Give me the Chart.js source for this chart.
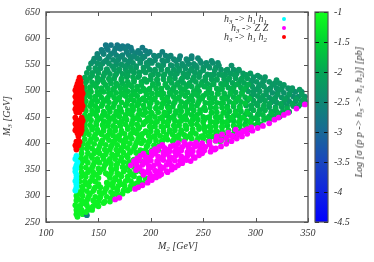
<!DOCTYPE html>
<html><head><meta charset="utf-8">
<style>
html,body{margin:0;padding:0;background:#fff}
#wrap{position:relative;width:374px;height:262px;overflow:hidden;filter:blur(0.4px)}
canvas{position:absolute;left:0;top:0}
.t{position:absolute;font:italic 10px "Liberation Serif",serif;color:#333;white-space:nowrap;line-height:10px}
.t sub{font-size:7px;vertical-align:-2px;line-height:0}
.m{position:absolute;width:4px;height:4px;border-radius:50%}
</style></head><body>
<div id="wrap">
<canvas id="main" width="374" height="262"></canvas>
<canvas id="bar" width="374" height="262"></canvas>
<div class="t" style="left:158px;top:241px">M<sub>2</sub> [GeV]</div>
<div class="t" style="left:7px;top:116px;transform:translate(-50%,-50%) rotate(-90deg)">M<sub>3</sub> [GeV]</div>
<div class="t" style="left:359px;top:112px;transform:translate(-50%,-50%) rotate(-90deg)">Log [σ (p p -&gt; h<sub>3</sub> -&gt; h<sub>1</sub> h<sub>2</sub>)] [pb]</div>
<div class="t" style="left:224px;top:14px">h<sub>3</sub> -&gt; h<sub>1</sub> h<sub>1</sub></div>
<div class="t" style="left:231px;top:23px">h<sub>3</sub> -&gt; Z Z</div>
<div class="t" style="left:224px;top:32px">h<sub>3</sub> -&gt; h<sub>1</sub> h<sub>2</sub></div>
<div class="m" style="left:282px;top:17px;background:#00ffff"></div>
<div class="m" style="left:282px;top:26px;background:#ff00ff"></div>
<div class="m" style="left:282px;top:35px;background:#ff0000"></div>
</div>
<script src="https://cdn.jsdelivr.net/npm/chart.js@4"></script>
<script>
const xTicks=[100,150,200,250,300,350];
const yTicks=[250,300,350,400,450,500,550,600,650];
const zTicks=[-1,-1.5,-2,-2.5,-3,-3.5,-4,-4.5];

// [M3, log sigma, [M2 values]]
const cloudRows=[
[587,-2.76,[157,162,168]],[585,-2.74,[173,178]],
[578,-2.68,[153,159]],[580,-2.68,[166,171,176]],[576,-2.66,[182,188,195]],
[570,-2.56,[149,155,162]],[568,-2.55,[167,173,179]],[571,-2.58,[185,190,197]],[567,-2.55,[203,208,214,219]],
[561,-2.43,[146,151]],[559,-2.42,[158,164,169,175]],[562,-2.44,[181,187,192]],[558,-2.42,[199,204,211,216]],[560,-2.5,[222,227,234]],[562,-2.52,[239,245]],
[552,-2.28,[143,149,154,160]],[550,-2.28,[167,172,178]],[553,-2.3,[183,190,196,201]],[549,-2.28,[207,212,219,225]],[551,-2.38,[230,236,241]],[553,-2.4,[248,253,259,264]],
[543,-2.16,[141,147,152]],[541,-2.16,[158,165,170,176]],[544,-2.18,[181,186,193]],[540,-2.16,[199,204,210,216,222]],[542,-2.26,[227,233,239]],[544,-2.28,[244,250,256,262]],[540,-2.26,[267,273,279,284]],
[534,-2.04,[139,144,150,156]],[532,-2.04,[161,167,173]],[535,-2.06,[178,184,189,195]],[531,-2.04,[202,207,213]],[533,-2.14,[219,225,231,236]],[535,-2.16,[242,247]],[531,-2.14,[254,260,265,271]],[533,-2.16,[276,282,288,295]],
[525,-1.94,[137,142,149]],[523,-1.94,[154,160,165,172]],[526,-1.96,[177,183,188]],[522,-1.94,[194,200,206,212]],[524,-2.04,[218,223,230]],[526,-2.06,[235,241,246,252]],[522,-2.04,[258,263,270]],[524,-2.06,[275,281,287,292]],[526,-2.25,[298,304,309]],
[516,-1.85,[138,144,149,155]],[514,-1.85,[162,167,173]],[517,-1.87,[178,184,191,196]],[513,-1.85,[202,207,214]],[515,-1.95,[220,226,231,237]],[517,-1.97,[243,249]],[513,-1.95,[254,260,267,272]],[515,-2.0,[278,284,289]],[517,-2.22,[296,301,307,313]],[514,-2.24,[318,323]],
[507,-1.76,[137,142,148]],[505,-1.76,[153,159,165,171]],[508,-1.78,[176,182,187]],[504,-1.76,[193,199,205,210]],[506,-1.86,[216,222,228]],[508,-1.88,[234,239,245,251]],[504,-1.86,[256,263,268]],[506,-1.92,[274,279,286,291]],[508,-2.18,[297,303,308]],[505,-2.28,[314,320,325,331,335]],
[498,-1.68,[138,143,149,155]],[496,-1.68,[160,167,172]],[499,-1.7,[178,183,190,195]],[495,-1.68,[201,206,212]],[497,-1.78,[218,224,229,235]],[499,-1.8,[241,246]],[495,-1.78,[253,258,264,270]],[497,-1.86,[276,281,287]],[499,-2.12,[293,298,304,310]],[496,-2.32,[316,321,327]],[498,-2.36,[333,338,344]],
[489,-1.62,[137,142,147]],[487,-1.62,[153,159,165,170]],[490,-1.64,[176,181,187]],[486,-1.62,[193,199,204,211]],[488,-1.72,[216,222,227]],[490,-1.74,[233,239,245,250]],[486,-1.72,[256,261,268]],[488,-1.82,[273,279,284,290]],[490,-2.06,[296,302,307]],[487,-2.25,[313,319,325,330]],[489,-2.36,[336,341,347]],
[480,-1.56,[138,144,149,155]],[478,-1.56,[160,166,172]],[481,-1.58,[178,184,189,195]],[477,-1.56,[200,206,212]],[479,-1.66,[217,223,229,235]],[481,-1.68,[240,246]],[477,-1.66,[252,258,263,269]],[479,-1.76,[275,281,286]],[481,-2,[292,298,304,309]],[478,-2.18,[315,320,327]],[480,-2.3,[332,338,344,347]],
[471,-1.5,[137,142,147,153]],[469,-1.5,[159,164,170]],[472,-1.52,[176,182,187,193]],[468,-1.5,[199,205,210]],[470,-1.6,[216,221,228,233]],[472,-1.62,[239,244]],[468,-1.6,[251,257,262,268]],[470,-1.72,[273,279,285]],[472,-1.92,[291,296,302,308]],[469,-2.08,[313,319,325]],[471,-2.2,[330,336,341]],
[462,-1.45,[138,144,149]],[460,-1.45,[155,161,167,172]],[463,-1.47,[178,183,189]],[459,-1.45,[195,200,207,213]],[461,-1.55,[218,224,229]],[463,-1.57,[235,241,247,252]],[459,-1.55,[258,263,270]],[461,-1.66,[275,281,286,292]],[463,-1.84,[298,304,309]],[460,-1.98,[315,320,326,332]],
[453,-1.41,[137,142,148,154]],[451,-1.41,[159,165,170]],[454,-1.43,[176,182,188,193]],[450,-1.41,[199,204,211]],[452,-1.5,[216,222,228,233]],[454,-1.52,[239,244]],[450,-1.5,[250,256,262,267]],[452,-1.6,[273,279,284]],[454,-1.76,[290,295,302,307]],[451,-1.88,[313,318,323]],
[444,-1.37,[138,143,149]],[442,-1.37,[155,160,166,172]],[445,-1.39,[177,183,189]],[441,-1.37,[195,200,206,212]],[443,-1.45,[217,223,229]],[445,-1.47,[234,240,245,251]],[441,-1.45,[257,263,268]],[443,-1.54,[274,279,285,291]],[445,-1.68,[296,302,308,313]],
[435,-1.34,[137,142,148,154]],[433,-1.34,[159,164,171]],[436,-1.35,[176,182,187,193]],[432,-1.34,[199,204,210]],[434,-1.4,[216,222,227,233]],[436,-1.42,[239,244]],[432,-1.4,[251,256,262,268]],[434,-1.48,[273,279,285]],[436,-1.6,[290,296,301,305]],
[426,-1.31,[138,144,149]],[424,-1.31,[155,161,166,172]],[427,-1.32,[178,183,188]],[423,-1.31,[195,200,206,212]],[425,-1.36,[218,223,229]],[427,-1.37,[234,240,246,251]],[423,-1.36,[257,262,268]],[425,-1.44,[274,280,286,292]],
[417,-1.28,[136,141,147,153]],[415,-1.28,[159,164,170]],[418,-1.29,[175,181,187,192]],[414,-1.28,[198,204,209]],[416,-1.32,[215,221,227,232]],[418,-1.33,[238,243]],[414,-1.32,[250,255,261,266]],[416,-1.38,[272,278,283]],
[408,-1.26,[137,143,148]],[406,-1.26,[154,160,166,171]],[409,-1.27,[176,182,188]],[405,-1.26,[193,199,205,211]],[407,-1.28,[216,222,227]],[409,-1.29,[233,239,245,250]],[405,-1.28,[256,262,267,273]],
[399,-1.24,[135,140,146,152]],[397,-1.24,[157,163,168]],[400,-1.25,[174,180,186,191]],[396,-1.24,[197,203,208]],
[390,-1.23,[134,139,144]],[388,-1.23,[150,156,161,167]],[391,-1.23,[172,178,184]],[387,-1.23,[190,195,201,207]],
[381,-1.22,[134,140,146,151]],[379,-1.22,[157,163,168]],[382,-1.22,[174,180,186,191,197]],
[372,-1.21,[133,138,144]],[370,-1.21,[149,155,161,166]],[373,-1.21,[172,178]],[369,-1.21,[184,189,195]],
[363,-1.2,[134,140,146,151]],[361,-1.2,[157,162,168]],[364,-1.2,[174,179,186]],
[354,-1.19,[133,138,144]],[352,-1.19,[150,155,162,167]],[355,-1.19,[173,178,184]],
[345,-1.18,[134,140,145,151]],[343,-1.18,[157,162,168]],[346,-1.18,[174,180,186,191]],
[336,-1.18,[133,138,144]],[334,-1.18,[150,161,166]],[337,-1.18,[172,178,184]],[333,-1.18,[189,195,199]],
[327,-1.17,[132,137,142,147]],[325,-1.17,[158,164]],[328,-1.17,[170,176,181]],[324,-1.17,[187,192]],
[318,-1.17,[130,135,141]],[316,-1.17,[147,152,158,164]],[319,-1.17,[169,175,181,186]],
[309,-1.16,[129,134,139,145]],[307,-1.16,[151,156,162]],[310,-1.16,[168,174,178]],
[300,-1.16,[129,135,141]],[298,-1.16,[147,152,158]],[301,-1.16,[164,169]],
[291,-1.15,[129,134,139,145]],[289,-1.15,[150,156,161]],
[282,-1.15,[128,133,139]],[280,-1.15,[145,150]],
[273,-1.15,[129,134,140,144]],
[265,-1.15,[129,135]],
[260,-1.15,[130]],
[263,-2.7,[139]]
];

const cloudFill=[
[582,-2.72,[158,169,181,192]],
[574,-2.62,[154,165,177,188,199,211]],
[565,-2.5,[149,160,171,183,194,205,217]],[566,-2.57,[228,239]],
[556,-2.36,[145,156,167,179,190,201,213]],[557,-2.44,[224,235,247,258]],
[547,-2.24,[152,163,175,186,197,209]],[548,-2.33,[220,231,243,254,265,277]],
[538,-2.1,[148,159,170,182,193,204,216]],[539,-2.2,[227,238,250,261,272,284]],
[529,-2,[144,155,166,178,189,200,212]],[530,-2.1,[223,234,246,257,268,280,291]],[529,-2.25,[302]],
[520,-1.9,[139,150,161,172,184,195,206,218]],[521,-2,[229,240,252,263,274,286]],[520,-2.24,[297,308,320]],
[511,-1.8,[146,157,168,180,191,202,214]],[512,-1.9,[225,236,248,259,270,282,293]],[511,-2.22,[304,316,327]],
[502,-1.72,[142,153,164,176,187,198,210]],[503,-1.82,[221,232,244,255,266,278,289]],[502,-2.2,[300,312,323,334,342]],
[493,-1.65,[140,151,162,174,185,196,208]],[494,-1.75,[219,230,242,253,264,276,287]],[493,-2.15,[298,310,321,332,344]],
[484,-1.59,[147,158,169,181,192,203,215]],[485,-1.69,[226,237,249,260,271,283,294]],[484,-2.1,[305,317,328,339,346]],
[475,-1.53,[143,154,165,177,188,199,211]],[476,-1.63,[222,233,245,256,267,279,290]],[475,-1.98,[301,313,324,335,343]],
[466,-1.48,[149,160,171,183,194,205,217]],[467,-1.58,[228,239,251,262,273,285]],[466,-1.9,[296,307,319,330]],
[457,-1.43,[145,156,167,179,190,201,213]],[458,-1.52,[224,235,247,258,269,281,292]],[457,-1.82,[303,315,322]],
[448,-1.39,[141,152,163,175,186,197,209]],[449,-1.47,[220,231,243,254,265,277,288]],[448,-1.72,[299,311]],
[439,-1.36,[148,159,170,182,193,204,216]],[440,-1.42,[227,238,250,261,272,284,295]],
[430,-1.32,[144,155,166,178,189,200,212]],[431,-1.38,[223,234,246,257,268,280,291]],
[421,-1.3,[139,150,161,172,184,195,206]],[422,-1.34,[218,229,240,252,263,274,286]],
[412,-1.27,[146,157,168,180,191,202,214]],[413,-1.3,[225,236,248,259,270,279]],
[403,-1.25,[142,153,164,176,187,198,210]],[404,-1.27,[221,232,244,255,266]],
[394,-1.24,[140,151,162,174,185,196,206]],
[385,-1.23,[147,158,169,181,192,201]],
[376,-1.22,[143,154,165,177,188,197]],
[367,-1.21,[138,149,160,171,183,190]],
[358,-1.2,[145,156,167,179,186]],
[349,-1.19,[141,152,163,175,186]],
[340,-1.18,[137,148,159,170,182,193]],
[331,-1.18,[144,166,178,189,197]],
[322,-1.17,[139,150,161,172,184,191]],
[313,-1.17,[135,146,157,168,180]],
[304,-1.16,[131,142,153,164,173]],
[295,-1.16,[130,140,151,162]],
[286,-1.15,[136,147,155]],
[277,-1.15,[132,143]],
[269,-1.15,[132,138]]
];

const cyanM2=[128,130,129,129,128,129,129,129,128,129,129,128,129,128];
const cyanM3=[370,364,358,352,346,340,334,328,328,322,316,310,376,352];

const magentaM2=[
166,170,185,188,192,197,201,
226,232,238,243,249,256,262,
208,213,219,224,230,236,242,247,252,258,
201,206,212,218,223,229,235,240,246,251,257,
190,195,201,207,212,218,224,229,235,241,246,
184,189,194,200,206,212,217,223,228,234,238,
181,187,192,198,203,209,215,220,226,
186,192,198,204,209,215,220,
193,199,205,210,
199,205,
262,267,272,277,282,287,292,297,302,307,313,318,322,327,331,339,347,
267,272,277,283,288,292,263,268,274,281,
211,222,234,245,256,204,215,227,238,250,261,193,204,215,226,238,249,
187,198,209,220,231,242,186,196,207,218,230,189,200,212,223,196,207,216,202,208,
278,285,290,296];
const magentaM3=[
293,296,313,316,320,325,330,
400,402,399,401,400,403,405,
393,391,394,392,393,391,394,392,393,391,
384,386,383,385,384,386,383,385,384,386,384,
376,374,377,375,376,374,377,375,376,374,377,
366,368,365,367,366,368,365,367,366,368,366,
358,356,359,357,358,356,359,357,358,
349,347,350,348,349,347,350,
340,342,339,341,
333,335,
390,394,399,404,409,413,418,424,429,433,438,445,449,454,458,466,474,
406,410,414,418,423,427,413,417,420,426,
397,396,397,396,398,389,388,389,388,389,388,380,381,380,381,380,381,
371,372,371,372,371,372,362,363,362,363,362,353,354,353,354,345,346,345,337,338,
414,419,424,430];

const redM2=[132,131,133,130,133,129,132,134,128,131,134,129,132,135,128,131,134,129,132,134,128,131,134,129,132,135,128,131,134,129,132,128,134,129,132,135,128,131,134,129,132,134,128,131,134,130,133,131,129,132,128,131,129,
130,133,130,133,130,133,130,133,130,131,133,130,132,130,129];
const redM3=[525,519,519,513,513,507,507,507,501,501,501,495,495,495,489,489,489,483,483,483,477,477,477,471,471,471,465,465,465,459,459,449,449,443,443,443,437,437,437,431,431,431,425,425,425,419,419,413,403,403,396,396,388,
510,504,498,492,486,480,474,468,462,440,434,428,422,399,392];

const paletteZ=[-4.5,-4,-3.5,-3,-2.5,-2,-1.5,-1];
const paletteRGB=[[0,0,255],[15,35,225],[25,70,190],[25,105,150],[15,135,115],[5,165,85],[0,210,50],[18,255,28]];
function colorOf(z){
  let i=0;while(i<paletteZ.length-2&&z>paletteZ[i+1])i++;
  const f=(z-paletteZ[i])/(paletteZ[i+1]-paletteZ[i]);
  const c=paletteRGB[i].map((v,k)=>Math.round(v+(paletteRGB[i+1][k]-v)*f));
  return `rgb(${c[0]},${c[1]},${c[2]})`;
}
const cloudPts=[],cloudCols=[];
cloudRows.concat(cloudFill).forEach(([m3,z,list])=>list.forEach(m2=>{cloudPts.push({x:m2,y:m3});cloudCols.push(colorOf(z));}));
const zip=(a,b)=>a.map((v,i)=>({x:v,y:b[i]}));

const FONT={family:'"Liberation Serif",serif',style:'italic',size:10};
const INK='#333';
const frame={id:'frame',afterDraw(c){
  const {ctx,chartArea:a,scales:s}=c;
  ctx.save();ctx.strokeStyle='#555';ctx.lineWidth=1;
  ctx.beginPath();
  s.x.ticks.forEach(t=>{const p=Math.round(s.x.getPixelForValue(t.value))+.5;
    ctx.moveTo(p,a.bottom);ctx.lineTo(p,a.bottom-4);ctx.moveTo(p,a.top);ctx.lineTo(p,a.top+4);});
  s.y.ticks.forEach(t=>{const p=Math.round(s.y.getPixelForValue(t.value))+.5;
    ctx.moveTo(a.left,p);ctx.lineTo(a.left+4,p);ctx.moveTo(a.right,p);ctx.lineTo(a.right-4,p);});
  ctx.stroke();
  ctx.lineWidth=1.4;ctx.strokeRect(a.left,a.top,a.right-a.left,a.bottom-a.top);
  ctx.restore();
}};
new Chart(document.getElementById('main'),{
  type:'scatter',
  data:{datasets:[
    {label:'h3 -> h1 h2',data:zip(redM2,redM3),backgroundColor:'#ff0000',order:1},
    {label:'h3 -> Z Z',data:zip(magentaM2,magentaM3),backgroundColor:'#ff00ff',order:2},
    {label:'h3 -> h1 h1',data:zip(cyanM2,cyanM3),backgroundColor:'#00ffff',order:3},
    {label:'cloud',data:cloudPts,backgroundColor:cloudCols,order:4}
  ]},
  options:{responsive:false,animation:false,
    layout:{padding:{left:0,top:11,right:66,bottom:0}},
    elements:{point:{radius:2.9,borderWidth:0,hoverRadius:2.9}},
    plugins:{legend:{display:false},tooltip:{enabled:false}},
    scales:{
      x:{type:'linear',min:100,max:350,afterFit:s=>{s.height=40},
        afterBuildTicks:s=>{s.ticks=xTicks.map(v=>({value:v}))},
        grid:{display:false,drawTicks:false},border:{display:false},
        ticks:{font:FONT,color:INK,padding:5,maxRotation:0,autoSkip:false}},
      y:{type:'linear',min:250,max:650,afterFit:s=>{s.width=46},
        afterBuildTicks:s=>{s.ticks=yTicks.map(v=>({value:v}))},
        grid:{display:false,drawTicks:false},border:{display:false},
        ticks:{font:FONT,color:INK,padding:6,autoSkip:false}}
    }
  },
  plugins:[frame]
});

const barFrame={id:'barFrame',afterDraw(c){
  const {ctx,chartArea:a,scales:s}=c;
  ctx.save();ctx.strokeStyle='#111';ctx.lineWidth=1;ctx.beginPath();
  s.y.ticks.forEach(t=>{const p=Math.round(s.y.getPixelForValue(t.value))+.5;
    ctx.moveTo(a.left,p);ctx.lineTo(a.left+4,p);ctx.moveTo(a.right,p);ctx.lineTo(a.right-4,p);});
  ctx.stroke();
  ctx.strokeStyle='#555';ctx.lineWidth=1.2;ctx.strokeRect(a.left,a.top,a.right-a.left,a.bottom-a.top);
  ctx.restore();
}};
new Chart(document.getElementById('bar'),{
  type:'bar',
  data:{labels:['z'],datasets:[{data:[[-4.5,-1]],barPercentage:1,categoryPercentage:1,borderWidth:0,
    backgroundColor(ctx){
      const a=ctx.chart.chartArea;if(!a)return '#0f0';
      const y=ctx.chart.scales.y,g=ctx.chart.ctx.createLinearGradient(0,a.bottom,0,a.top);
      paletteZ.forEach((z,i)=>g.addColorStop((y.getPixelForValue(z)-a.bottom)/(a.top-a.bottom),colorOf(z)));
      return g;
    }}]},
  options:{responsive:false,animation:false,
    layout:{padding:{left:315,top:11,right:0,bottom:40}},
    plugins:{legend:{display:false},tooltip:{enabled:false}},
    scales:{
      x:{display:false},
      y:{position:'right',min:-4.5,max:-1,afterFit:s=>{s.width=46},
        afterBuildTicks:s=>{s.ticks=zTicks.map(v=>({value:v}))},
        grid:{display:false,drawTicks:false},border:{display:false},
        ticks:{font:FONT,color:INK,padding:6,autoSkip:false,callback:v=>String(v)}}
    }
  },
  plugins:[barFrame]
});
</script>
</body></html>
